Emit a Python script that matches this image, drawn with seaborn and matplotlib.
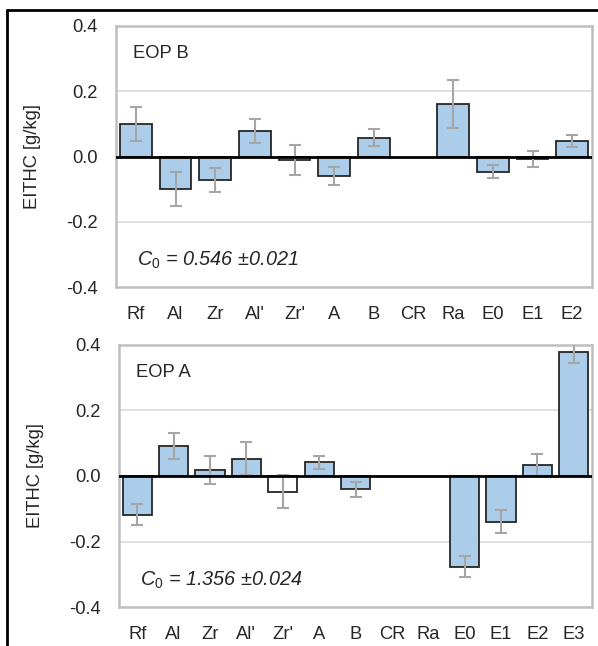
import numpy as np
import pandas as pd
import matplotlib
matplotlib.use("Agg")
import matplotlib.pyplot as plt
import seaborn as sns
from matplotlib.lines import Line2D

sns.set_style("white")
plt.rcParams['font.family'] = ['Liberation Sans', 'DejaVu Sans']
plt.rcParams['mathtext.fontset'] = 'custom'
plt.rcParams['mathtext.rm'] = 'Liberation Sans'
plt.rcParams['mathtext.it'] = 'Liberation Sans:italic'

# EOP B (top panel)
cats_b = ["Rf", "Al", "Zr", "Al'", "Zr'", "A", "B", "CR", "Ra", "E0", "E1", "E2"]
vals_b = [0.100, -0.100, -0.072, 0.077, -0.012, -0.060, 0.058, np.nan, 0.160, -0.046, -0.007, 0.047]
errs_b = [0.053, 0.053, 0.037, 0.037, 0.046, 0.027, 0.027, np.nan, 0.073, 0.020, 0.024, 0.018]

# EOP A (bottom panel)
cats_a = ["Rf", "Al", "Zr", "Al'", "Zr'", "A", "B", "CR", "Ra", "E0", "E1", "E2", "E3"]
vals_a = [-0.118, 0.091, 0.019, 0.053, -0.048, 0.042, -0.041, np.nan, np.nan, -0.277, -0.139, 0.034, 0.380]
errs_a = [0.032, 0.039, 0.042, 0.051, 0.051, 0.020, 0.022, np.nan, np.nan, 0.032, 0.034, 0.033, 0.034]

BLUE = "#ABCDEA"
EDGE = "#262626"
ERR = "#A6A6A6"
GRID = "#D9D9D9"
FS = 13.2


def panel(ax, cats, vals, errs, title, c0):
    df = pd.DataFrame({"cat": cats, "val": vals, "err": errs}).dropna()
    pal = {c: ("white" if c == "Zr'" else BLUE) for c in cats}
    sns.barplot(data=df, x="cat", y="val", hue="cat", order=cats, hue_order=cats,
                palette=pal, legend=False, width=0.8, edgecolor=EDGE,
                linewidth=1.3, saturation=1, errorbar=None, ax=ax, zorder=3)
    pos = [cats.index(c) for c in df["cat"]]
    ax.errorbar(pos, df["val"], yerr=df["err"], fmt="none", ecolor=ERR,
                elinewidth=1.5, capsize=4.5, capthick=1.5, zorder=4)
    ax.axhline(0, color="black", lw=2, zorder=5)
    ax.set_ylim(-0.4, 0.4)
    ax.set_xlim(-0.5, len(cats) - 0.5)
    ax.set_yticks([-0.4, -0.2, 0.0, 0.2, 0.4])
    ax.set_yticklabels(["-0.4", "-0.2", "0.0", "0.2", "0.4"])
    for y in (-0.2, 0.2):
        ax.axhline(y, color=GRID, lw=1.2, zorder=1)
    for s in ax.spines.values():
        s.set_color("#BFBFBF")
        s.set_linewidth(1.8)
    ax.tick_params(axis="both", length=0, labelsize=FS)
    ax.tick_params(axis="x", pad=14)
    ax.tick_params(axis="y", pad=13)
    ax.set_xlabel("")
    ax.set_ylabel("EITHC [g/kg]", fontsize=FS, labelpad=18)
    ax.text(0.036, 0.896, title, transform=ax.transAxes, fontsize=FS,
            va="center", ha="left")
    ax.text(0.044, 0.103, r"$\mathit{C_0}$ = " + c0, transform=ax.transAxes,
            fontsize=14.3, style="italic", va="center", ha="left")


fig = plt.figure(figsize=(5.98, 6.46), dpi=100)
ax1 = fig.add_axes([116 / 598, 1 - 287 / 646, (592 - 116) / 598, (287 - 26) / 646])
ax2 = fig.add_axes([119 / 598, 1 - 607 / 646, (592 - 119) / 598, (607 - 345) / 646])

panel(ax1, cats_b, vals_b, errs_b, "EOP B", "0.546 ±0.021")
panel(ax2, cats_a, vals_a, errs_a, "EOP A", "1.356 ±0.024")

# outer black frame (top and left)
fig.add_artist(Line2D([7 / 598, 1], [1 - 10 / 646, 1 - 10 / 646], color="black", lw=2, transform=fig.transFigure))
fig.add_artist(Line2D([7 / 598, 7 / 598], [0, 1 - 10 / 646], color="black", lw=2, transform=fig.transFigure))

fig.savefig("out.png", dpi=100)
